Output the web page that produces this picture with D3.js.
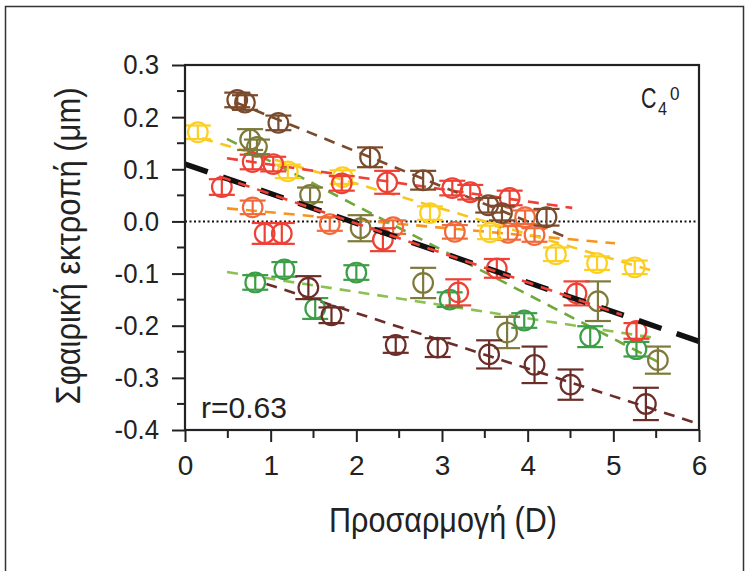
<!DOCTYPE html>
<html>
<head>
<meta charset="utf-8">
<script src="https://cdn.jsdelivr.net/npm/d3@7"></script>
<style>
  body { margin: 0; background: #fff; }
  text { font-family: "Liberation Sans", Arial, sans-serif; fill: #222; }
</style>
</head>
<body>
<script>
const w = 749;
const h = 571;

// axis ticks
const xTicks = [0, 1, 2, 3, 4, 5, 6];
const xMinor = [0.5, 1.5, 2.5, 3.5, 4.5, 5.5];
const yTicks = [-0.4, -0.3, -0.2, -0.1, 0.0, 0.1, 0.2, 0.3];
const yMinor = [-0.35, -0.25, -0.15, -0.05, 0.05, 0.15, 0.25];

// one array per subject: accommodation (D), spherical aberration (um), error
const brownX = [0.61, 0.70, 1.09, 2.16, 2.78, 3.54, 3.70, 4.22];
const brownY = [0.233, 0.228, 0.189, 0.123, 0.079, 0.031, 0.016, 0.008];
const brownE = [0.014, 0.014, 0.014, 0.019, 0.018, 0.014, 0.014, 0.016];

const yellowX = [0.15, 1.20, 1.84, 2.86, 3.56, 4.33, 4.81, 5.25];
const yellowY = [0.171, 0.096, 0.085, 0.016, -0.021, -0.063, -0.080, -0.088];
const yellowE = [0.013, 0.013, 0.013, 0.013, 0.013, 0.013, 0.013, 0.013];

const redAX = [0.79, 1.03, 1.83, 2.36, 3.12, 3.33, 3.79];
const redAY = [0.114, 0.110, 0.073, 0.075, 0.064, 0.056, 0.045];
const redAE = [0.014, 0.014, 0.014, 0.022, 0.014, 0.014, 0.014];

const redBX = [0.43, 0.93, 1.13, 2.31, 3.19, 3.64, 4.57, 5.27];
const redBY = [0.066, -0.023, -0.023, -0.035, -0.136, -0.090, -0.138, -0.210];
const redBE = [0.015, 0.020, 0.020, 0.022, 0.025, 0.018, 0.023, 0.015];

const orangeX = [0.79, 1.69, 2.43, 3.15, 3.77, 3.97, 4.08];
const orangeY = [0.027, -0.005, -0.011, -0.020, -0.022, 0.008, -0.026];
const orangeE = [0.013, 0.013, 0.013, 0.013, 0.013, 0.013, 0.013];

const oliveX = [0.76, 0.84, 1.46, 2.05, 2.78, 3.76, 4.82, 5.52];
const oliveY = [0.157, 0.143, 0.051, -0.013, -0.118, -0.213, -0.153, -0.266];
const oliveE = [0.020, 0.014, 0.014, 0.025, 0.029, 0.030, 0.038, 0.026];

const greenX = [0.82, 1.16, 1.52, 2.00, 3.09, 3.96, 4.73, 5.27];
const greenY = [-0.117, -0.092, -0.167, -0.098, -0.150, -0.190, -0.221, -0.245];
const greenE = [0.014, 0.014, 0.020, 0.014, 0.014, 0.014, 0.020, 0.014];

const maroonX = [1.44, 1.71, 2.46, 2.95, 3.55, 4.08, 4.50, 5.38];
const maroonY = [-0.127, -0.180, -0.237, -0.242, -0.255, -0.275, -0.313, -0.350];
const maroonE = [0.022, 0.015, 0.015, 0.018, 0.027, 0.035, 0.029, 0.031];

// fitted lines: [xStart, xEnd, intercept, slope]
const brownFit = [0.60, 4.50, 0.268, -0.067];
const yellowFit = [0.20, 5.50, 0.169, -0.0483];
const redAFit = [0.49, 4.52, 0.1326, -0.0236];
const redBFit = [0.40, 5.10, 0.109, -0.0565];
const orangeFit = [0.49, 5.02, 0.0323, -0.0148];
const oliveFit = [0.49, 5.52, 0.200, -0.085];
const greenFit = [0.49, 5.51, -0.0846, -0.0253];
const maroonFit = [0.95, 6.00, -0.0693, -0.0532];
const allFit = [0.00, 6.00, 0.110, -0.0567];

const series = [
  {x: orangeX, y: orangeY, e: orangeE, fit: orangeFit, c: "#f26a3a", lc: "#f7941d"},
  {x: yellowX, y: yellowY, e: yellowE, fit: yellowFit, c: "#fccf21", lc: "#f9c51f"},
  {x: redAX, y: redAY, e: redAE, fit: redAFit, c: "#ee4035", lc: "#ee4035"},
  {x: greenX, y: greenY, e: greenE, fit: greenFit, c: "#3c9e47", lc: "#8cc152"},
  {x: oliveX, y: oliveY, e: oliveE, fit: oliveFit, c: "#7e7a3b", lc: "#72a83b"},
  {x: brownX, y: brownY, e: brownE, fit: brownFit, c: "#7a4a2c", lc: "#7a4a2c"},
  {x: maroonX, y: maroonY, e: maroonE, fit: maroonFit, c: "#6b2d28", lc: "#6b2d28"},
  {x: redBX, y: redBY, e: redBE, fit: null, c: "#ee4035", lc: "#ee4035"}
];

const xScale = d3.scaleLinear().domain([0, 6]).range([185, 699]);
const yScale = d3.scaleLinear().domain([-0.4, 0.3]).range([430, 65]);

const svg = d3.select("body")
  .append("svg")
  .attr("width", w)
  .attr("height", h);

// outer border
svg.append("rect")
  .attr("x", 5.5).attr("y", 6.5)
  .attr("width", 738).attr("height", 600)
  .attr("fill", "none").attr("stroke", "#333").attr("stroke-width", 1.5);

// zero line
svg.append("line")
  .attr("x1", xScale(0)).attr("x2", xScale(6))
  .attr("y1", yScale(0)).attr("y2", yScale(0))
  .attr("stroke", "#111").attr("stroke-width", 2).attr("stroke-dasharray", "2,2.5");

const fitLine = (g, fit, color, width, dash) => {
  g.append("line")
    .attr("x1", xScale(fit[0])).attr("y1", yScale(fit[2] + fit[3] * fit[0]))
    .attr("x2", xScale(fit[1])).attr("y2", yScale(fit[2] + fit[3] * fit[1]))
    .attr("stroke", color).attr("stroke-width", width)
    .attr("stroke-dasharray", dash);
};

const lines = svg.append("g");
series.forEach(s => {
  if (s.fit) fitLine(lines, s.fit, s.lc, 2.6, "11,8");
});

// points with error bars
series.forEach(s => {
  const pts = s.x.map((v, i) => ({x: v, y: s.y[i], e: s.e[i]}));
  const g = svg.append("g")
    .attr("stroke", s.c).attr("stroke-width", 2.2).attr("fill", "none");
  const p = g.selectAll("g").data(pts).enter().append("g");
  p.append("line")
    .attr("x1", d => xScale(d.x)).attr("x2", d => xScale(d.x))
    .attr("y1", d => yScale(d.y + d.e)).attr("y2", d => yScale(d.y - d.e));
  p.append("line")
    .attr("x1", d => xScale(d.x) - 13).attr("x2", d => xScale(d.x) + 13)
    .attr("y1", d => yScale(d.y + d.e)).attr("y2", d => yScale(d.y + d.e));
  p.append("line")
    .attr("x1", d => xScale(d.x) - 13).attr("x2", d => xScale(d.x) + 13)
    .attr("y1", d => yScale(d.y - d.e)).attr("y2", d => yScale(d.y - d.e));
  p.append("circle")
    .attr("cx", d => xScale(d.x)).attr("cy", d => yScale(d.y))
    .attr("r", 9.8).attr("fill", "none");
});

// overall fit (black) with red subject line on top
fitLine(svg, allFit, "#111", 5.5, "24,16");
fitLine(svg, redBFit, "#ee4035", 2.6, "12,8");

// axes
const xAxis = d3.axisBottom(xScale).tickValues(xTicks).tickSize(12).tickPadding(13)
  .tickFormat(d3.format("d"));
const yAxis = d3.axisLeft(yScale).tickValues(yTicks).tickSize(13).tickPadding(13)
  .tickFormat(d => d3.format(".1f")(d).replace("−", "-"));

const gx = svg.append("g").attr("transform", `translate(0,${yScale(-0.4)})`).call(xAxis);
const gy = svg.append("g").attr("transform", `translate(${xScale(0)},0)`).call(yAxis);

svg.append("g").selectAll("line").data(xMinor).enter().append("line")
  .attr("x1", d => xScale(d)).attr("x2", d => xScale(d))
  .attr("y1", yScale(-0.4)).attr("y2", yScale(-0.4) + 8)
  .attr("stroke", "#222").attr("stroke-width", 2);
svg.append("g").selectAll("line").data(yMinor).enter().append("line")
  .attr("x1", xScale(0) - 8).attr("x2", xScale(0))
  .attr("y1", d => yScale(d)).attr("y2", d => yScale(d))
  .attr("stroke", "#222").attr("stroke-width", 2);

[gx, gy].forEach(g => {
  g.select(".domain").remove();
  g.selectAll(".tick line").attr("stroke", "#222").attr("stroke-width", 2);
  g.selectAll(".tick text").attr("font-size", 28).attr("fill", "#222")
    .style("font-family", "'Liberation Sans', Arial, sans-serif");
});
// squeeze the tick labels a little, like a condensed face
gy.selectAll(".tick text").each(function() {
  const len = this.getComputedTextLength();
  d3.select(this).attr("textLength", len * 0.92).attr("lengthAdjust", "spacingAndGlyphs");
});

// frame
svg.append("rect")
  .attr("x", xScale(0)).attr("y", yScale(0.3))
  .attr("width", xScale(6) - xScale(0)).attr("height", yScale(-0.4) - yScale(0.3))
  .attr("fill", "none").attr("stroke", "#222").attr("stroke-width", 2.2);

// titles
svg.append("text")
  .attr("x", 443).attr("y", 532)
  .attr("text-anchor", "middle").attr("font-size", 35)
  .attr("textLength", 228).attr("lengthAdjust", "spacingAndGlyphs")
  .text("Προσαρμογή (D)");

svg.append("text")
  .attr("transform", "translate(80,246) rotate(-90)")
  .attr("text-anchor", "middle").attr("font-size", 35)
  .attr("textLength", 317).attr("lengthAdjust", "spacingAndGlyphs")
  .text("Σφαιρική εκτροπή (μm)");

// C4 with superscript 0
svg.append("text").attr("transform", "translate(641,108) scale(0.74,1)")
  .attr("font-size", 29).text("C");
svg.append("text").attr("transform", "translate(658,115) scale(0.85,1)")
  .attr("font-size", 19).text("4");
svg.append("text").attr("transform", "translate(670,100) scale(0.9,1)")
  .attr("font-size", 19).text("0");

svg.append("text")
  .attr("x", 201).attr("y", 418).attr("font-size", 29)
  .attr("textLength", 86).attr("lengthAdjust", "spacingAndGlyphs")
  .text("r=0.63");
</script>
</body>
</html>
